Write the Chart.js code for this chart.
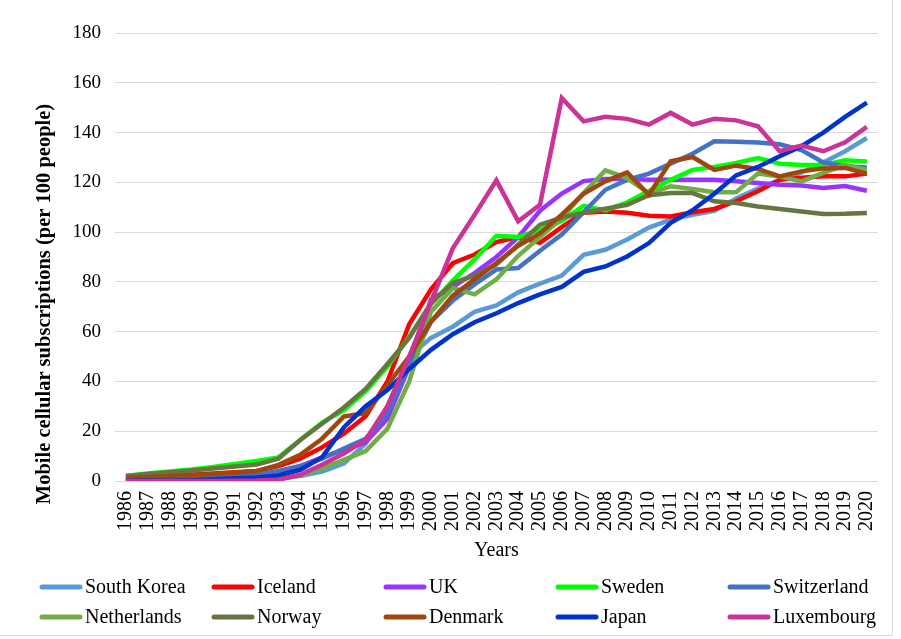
<!DOCTYPE html>
<html lang="en">
<head>
    <meta charset="UTF-8">
    <title>Mobile cellular subscriptions</title>
    <script src="https://cdn.jsdelivr.net/npm/chart.js"></script>
    <style>
        body { margin: 0; background: #fff; }
        canvas { display: block; }
    </style>
</head>
<body>
    <canvas id="myChart" width="901" height="639"></canvas>
    <script>
        // X-Axis
        var years = [];
        for (var y = 1986; y <= 2020; y++) years.push(String(y));

        var yTicks = [0, 20, 40, 60, 80, 100, 120, 140, 160, 180];

        var southKorea = [0, 0, 0, 0, 0.2, 0.4, 0.6, 1, 2, 3.8, 7, 15, 30, 50, 57.5, 62, 68, 70.5, 75.8, 79.3, 82.5, 90.9, 92.9, 97, 101.8, 105, 107, 108.5, 113.5, 117.5, 121, 124, 128, 132.5, 137.8];
        var iceland = [1.2, 1.5, 2, 2.5, 3, 3.5, 4, 6, 9, 13.5, 19, 26, 40, 63, 77, 87.5, 91, 96, 98, 95.7, 102, 107.8, 108.3, 107.8, 106.6, 106.3, 108, 109.3, 112.4, 116.4, 121, 121.8, 122.4, 122.4, 123.5];
        var uk = [0, 0.1, 0.3, 0.6, 1.2, 1.5, 2, 3, 6, 9.5, 12.5, 15.5, 25, 46, 73, 78, 83.5, 90, 98, 108.6, 115.5, 120.5, 121.3, 121.3, 121, 121, 121, 121, 120.4, 119.7, 119, 118.7, 117.7, 118.5, 116.6];
        var sweden = [2, 3, 3.8, 4.6, 5.6, 6.8, 8, 9.5, 16.5, 23.5, 28.5, 36, 46, 58, 71, 80.5, 89, 98.5, 98, 101, 104.5, 110.5, 108.7, 112, 116.5, 121, 125, 126.2, 127.8, 129.8, 127.5, 127, 127, 128.9, 128.4];
        var switzerland = [0.2, 0.4, 0.7, 1, 1.5, 2, 2.5, 4, 6, 9, 13, 17, 27, 47, 64, 72.5, 79, 85, 85.6, 92.5, 99, 108, 117, 121, 123.5, 127.5, 131.5, 136.5, 136.3, 136, 135.3, 133, 128, 126.5, 126];
        var netherlands = [0.2, 0.3, 0.3, 0.4, 0.5, 0.6, 0.6, 0.8, 2.3, 5, 8.5, 12, 21, 40, 68, 77.5, 75, 81, 90.5, 98, 105.5, 115.7, 124.8, 121.7, 115.5, 118.4, 117.3, 116, 116, 123.5, 122.3, 120.4, 123.8, 127, 125];
        var norway = [2, 2.8, 3.5, 4.2, 5, 5.8, 6.6, 9, 16.5, 23, 29.5, 37, 47, 57.5, 71.5, 79.6, 82.5, 87, 95, 103, 105.8, 107.8, 109.4, 111, 114.8, 115.7, 115.7, 112.4, 111.7, 110.3, 109.3, 108.3, 107.3, 107.4, 107.7];
        var denmark = [1.2, 1.6, 2, 2.4, 2.8, 3.3, 4, 6.5, 10.5, 17, 25.9, 27.3, 38.5, 50, 64, 74.5, 81, 87.6, 94.5, 99.5, 107, 115.4, 120.4, 124, 115, 128.5, 130.2, 125, 126.7, 125.4, 122.4, 124.4, 125.6, 125.8, 123.5];
        var japan = [0.1, 0.2, 0.2, 0.4, 0.7, 1.1, 1.4, 2.2, 4.5, 9.5, 21.5, 30, 36.5, 45, 52.7, 59, 63.8, 67.4, 71.5, 75, 78, 84, 86.2, 90.2, 95.6, 103.7, 108.8, 115.4, 122.8, 126.2, 130.5, 134.5, 140, 146.3, 152];
        var luxembourg = [0, 0, 0, 0, 0, 0.1, 0.2, 0.5, 2.5, 6.5, 11, 16.5, 30, 50, 72, 93.5, 107, 120.8, 104.3, 111, 153.9, 144.5, 146.3, 145.5, 143.2, 147.9, 143.2, 145.5, 144.9, 142.5, 132.5, 134.8, 132.5, 136.1, 142.3];

        var countries = ["South Korea", "Iceland", "UK", "Sweden", "Switzerland", "Netherlands", "Norway", "Denmark", "Japan", "Luxembourg"];
        var series = [southKorea, iceland, uk, sweden, switzerland, netherlands, norway, denmark, japan, luxembourg];
        var colors = ["#5B9BD5", "#FF0000", "#9933FF", "#00FF00", "#4472C4", "#70AD47", "#667641", "#9E480E", "#0033CC", "#CC3399"];

        var FONT = "'Liberation Serif', 'Times New Roman', serif";

        var datasets = countries.map(function (name, i) {
            return {
                label: name,
                data: series[i],
                borderColor: colors[i],
                backgroundColor: colors[i],
                borderWidth: 4.5,
                pointRadius: 0,
                tension: 0,
                fill: false,
                order: 10 - i   // later series drawn on top, like Excel
            };
        });

        // y title + grid legend + frame
        var extras = {
            id: 'extras',
            afterDraw: function (chart) {
                var ctx = chart.ctx;
                ctx.save();
                ctx.fillStyle = '#000';
                ctx.font = 'bold 20.5px ' + FONT;
                ctx.translate(45, 304);
                ctx.rotate(-Math.PI / 2);
                ctx.textAlign = 'center';
                ctx.textBaseline = 'middle';
                ctx.fillText('Mobile cellular subscriptions (per 100 people)', 0, 0);
                ctx.restore();

                ctx.save();
                ctx.font = '20px ' + FONT;
                ctx.textBaseline = 'middle';
                ctx.lineCap = 'round';
                chart.data.datasets.forEach(function (ds, i) {
                    var col = i % 5, row = Math.floor(i / 5);
                    var x = 42 + col * 172, y = 587 + row * 30;
                    ctx.strokeStyle = ds.borderColor;
                    ctx.lineWidth = 5;
                    ctx.beginPath();
                    ctx.moveTo(x, y);
                    ctx.lineTo(x + 38, y);
                    ctx.stroke();
                    ctx.fillStyle = '#000';
                    ctx.fillText(ds.label, x + 43, y + 1);
                });
                ctx.restore();

                ctx.save();
                ctx.strokeStyle = '#d9d9d9';
                ctx.lineWidth = 1;
                ctx.beginPath();
                ctx.moveTo(892.5, 0);
                ctx.lineTo(892.5, 635.5);
                ctx.lineTo(0, 635.5);
                ctx.stroke();
                ctx.restore();
            }
        };

        var ctx = document.getElementById('myChart').getContext('2d');
        var myChart = new Chart(ctx, {
            type: 'line',
            data: { labels: years, datasets: datasets },
            options: {
                responsive: false,
                animation: false,
                devicePixelRatio: 1,
                layout: { padding: { top: 33, right: 9, bottom: 74, left: 0 } },
                scales: {
                    x: {
                        offset: true,
                        grid: { display: false, drawTicks: false },
                        border: { display: false },
                        ticks: {
                            color: '#000',
                            font: { family: FONT, size: 20 },
                            minRotation: 90,
                            maxRotation: 90,
                            autoSkip: false,
                            padding: 10
                        },
                        title: {
                            display: true,
                            text: 'Years',
                            color: '#000',
                            font: { family: FONT, size: 20 },
                            padding: { top: 0, bottom: 2 }
                        },
                        afterFit: function (scale) { scale.height = 84; }
                    },
                    y: {
                        min: 0,
                        max: 180,
                        afterBuildTicks: function (scale) {
                            scale.ticks = yTicks.map(function (v) { return { value: v }; });
                        },
                        grid: { color: '#d9d9d9', lineWidth: 1, drawTicks: false },
                        border: { display: false },
                        ticks: {
                            color: '#000',
                            font: { family: FONT, size: 19 },
                            padding: 14
                        },
                        afterFit: function (scale) { scale.width = 115; }
                    }
                },
                plugins: {
                    legend: { display: false },
                    tooltip: { enabled: false }
                }
            },
            plugins: [extras]
        });
    </script>
</body>
</html>
